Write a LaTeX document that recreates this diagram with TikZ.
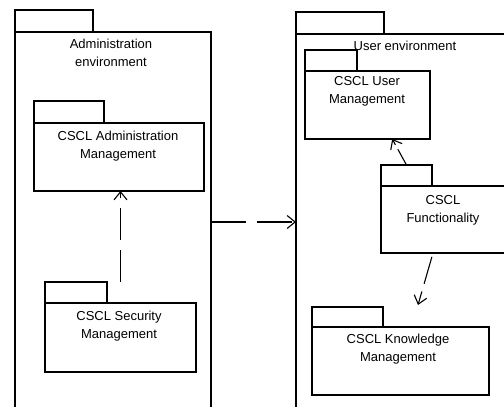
\documentclass[tikz,border=0pt]{standalone}
\usepackage{fontspec}
\setmainfont{Liberation Sans}
\usetikzlibrary{arrows.meta,positioning,calc}

\begin{document}
\begin{tikzpicture}[x=1pt,y=-1pt,line width=1.1pt,
  pkg/.style={draw,anchor=north west,inner sep=0pt,outer sep=0pt},
  tab/.style={draw,inner sep=0pt,outer sep=0pt},
  txt/.style={align=center,font=\fontsize{13}{18}\selectfont},
  dep/.style={dash pattern=on 32pt off 10pt,-{Straight Barb[length=8pt,width=13pt]}}]
\clip (0,0) rectangle (504,407);
% environments
\node (admenv) [pkg,minimum width=196pt,minimum height=380pt] at (15,32) {};
\node (admenvtab) [tab,minimum width=78pt,minimum height=22pt,above right=0pt of admenv.north west] {};
\node (admenvtxt) [txt] at (111,53) {Administration\\environment};
\node (userenv) [pkg,minimum width=300pt,minimum height=376pt] at (296,34) {};
\node (userenvtab) [tab,minimum width=88pt,minimum height=22pt,above right=0pt of userenv.north west] {};
% packages
\node (adm) [pkg,minimum width=170pt,minimum height=68pt] at (34,123) {};
\node (admtab) [tab,minimum width=70pt,minimum height=22pt,above right=0pt of adm.north west] {};
\node (admtxt) [txt] at (118,146.5) {CSCL Administration\\Management};
\node (sec) [pkg,minimum width=151pt,minimum height=69pt] at (45,303) {};
\node (sectab) [tab,minimum width=62pt,minimum height=21pt,above right=0pt of sec.north west] {};
\node (sectxt) [txt] at (119,326.5) {CSCL Security\\Management};
\node (usermg) [pkg,minimum width=125pt,minimum height=68pt] at (305,71) {};
\node (usermgtab) [tab,minimum width=52pt,minimum height=21pt,above right=0pt of usermg.north west] {};
\node (usermgtxt) [txt] at (367,91) {CSCL User\\Management};
\node (func) [pkg,minimum width=200pt,minimum height=67pt] at (381,186) {};
\node (functab) [tab,minimum width=51pt,minimum height=21pt,above right=0pt of func.north west] {};
\node (functxt) [txt] at (443,210) {CSCL\\Functionality};
\node (know) [pkg,minimum width=177pt,minimum height=68pt] at (312,327) {};
\node (knowtab) [tab,minimum width=71pt,minimum height=20pt,above right=0pt of know.north west] {};
\node (knowtxt) [txt] at (398,349) {CSCL Knowledge\\Management};
\node (userenvtxt) [txt] at (405,46) {User environment};
% dependencies
\draw[dep,dash pattern=on 35pt off 11pt] (admenv.east) -- (userenv.west);
\draw[dep] (sec.north |- sectab.north) -- (sec.north |- adm.south);
\draw[dep,dash pattern=on 18pt off 5pt] (functab.north) -- (usermg.-54);
\draw[dep,dash pattern=on 28pt off 8pt,shorten <=4pt] ($(func.south west)+(52,0)$) -- ($(knowtab.north east)+(35,-2)$);
\end{tikzpicture}
\end{document}
